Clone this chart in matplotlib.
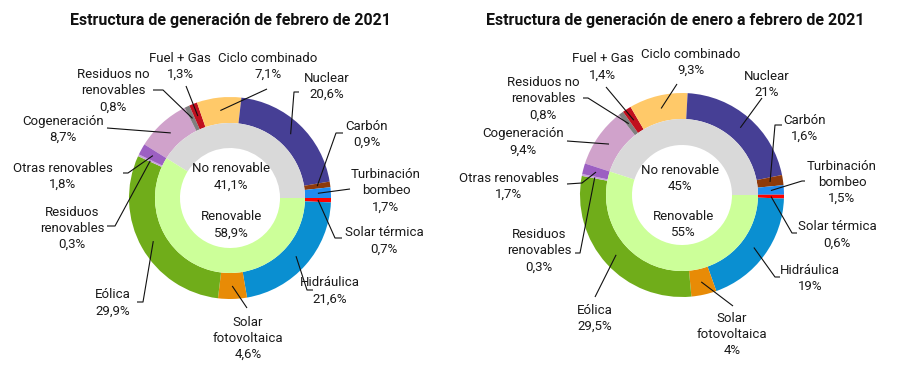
import matplotlib
matplotlib.use("Agg")
import matplotlib.pyplot as plt
from matplotlib import font_manager
import numpy as np

# ---------------- data ----------------
categories = ['Cogeneración', 'Residuos no\nrenovables', 'Fuel + Gas', 'Ciclo combinado',
              'Nuclear', 'Carbón', 'Turbinación\nbombeo', 'Solar térmica', 'Hidráulica',
              'Solar\nfotovoltaica', 'Eólica', 'Residuos\nrenovables', 'Otras renovables']
feb_values = [8.7, 0.8, 1.3, 7.1, 20.6, 0.9, 1.7, 0.7, 21.6, 4.6, 29.9, 0.3, 1.8]
ytd_values = [9.4, 0.8, 1.4, 9.3, 21.0, 1.6, 1.5, 0.6, 19.0, 4.0, 29.5, 0.3, 1.7]
inner_categories = ['No renovable', 'Renovable']
feb_inner = [41.1, 58.9]
ytd_inner = [45.0, 55.0]
titles = ['Estructura de generación de febrero de 2021',
          'Estructura de generación de enero a febrero de 2021']

# ---------------- style ----------------
colors = ['#D0A2CB', '#7F7F7F', '#C00F1E', '#FFC969', '#463F95', '#8E3A0B', '#1F8BF0',
          '#FF0000', '#0A8FD1', '#E88B06', '#70AD1A', '#C9A3DD', '#9C5FC2']
inner_colors = ['#D9D9D9', '#CCFF99']

fam = 'DejaVu Sans'
for f in ['Liberation Sans Narrow', 'Roboto', 'Lato']:
    try:
        font_manager.findfont(f, fallback_to_default=False)
        fam = f
        break
    except Exception:
        pass
plt.rcParams['font.family'] = [fam, 'DejaVu Sans']

W, H = 900, 373
fig = plt.figure(figsize=(W / 100, H / 100), dpi=100)
ax = fig.add_axes([0, 0, 1, 1])

def Y(y):
    return H - y

TXT = '#1a1a1a'
FS = 9.5

layouts = [
    dict(center=(230, 198), R=101, r1=75, r0=50, title_x=230,
         inner_pos=[(231, 177), (231, 225)],
         labels=[(63, 129), (113, 91), (180, 66), (268, 66), (327, 86), (367, 134), (386, 191),
                 (384, 241), (330, 291), (248, 338), (113, 303), (72, 228), (63, 176)],
         lines=[[(107, 128)], [(163, 90), (153, 90)], [(186, 86)], [(267, 89)],
                [(294, 92), (299, 92)], [(336, 133), (343, 133)], [(350, 189)],
                [(335, 238), (342, 238)], [(307, 290), (313, 290)], [(247, 308)],
                [(143, 302), (137, 302)], [(115, 226), (107, 226)], [(128, 173), (123, 173)]]),
    dict(center=(682, 195), R=102, r1=76, r0=50, title_x=675,
         inner_pos=[(680, 178), (683, 224)],
         labels=[(523, 142), (543, 99), (603, 67), (691, 62), (767, 84), (805, 128), (842, 182),
                 (837, 235), (810, 279), (732, 335), (595, 318), (539, 251), (509, 186)],
         lines=[[(567, 141)], [(588, 98), (583, 98)], [(606, 87)], [(677, 84)], [(762, 98)],
                [(775, 125), (782, 125)], [(802, 181), (805, 181)], [(792, 233), (797, 233)],
                [(775, 277), (780, 277)], [(733, 306)], [(595, 297)],
                [(580, 253), (575, 253)], [(582, 183), (567, 184)]]),
]

def fmt(v):
    return ('{:g}'.format(v)).replace('.', ',') + '%'

for vals, inner_vals, lay, title in zip([feb_values, ytd_values], [feb_inner, ytd_inner],
                                         layouts, titles):
    cx, cy = lay['center'][0], Y(lay['center'][1])
    start = 360 * inner_vals[0] / 100.0
    wedges, _ = ax.pie(vals, colors=colors, radius=lay['R'], center=(cx, cy),
                       startangle=start, counterclock=False,
                       wedgeprops=dict(width=lay['R'] - lay['r1'], linewidth=0))
    ax.pie(inner_vals, colors=inner_colors, radius=lay['r1'], center=(cx, cy),
           startangle=start, counterclock=False,
           wedgeprops=dict(width=lay['r1'] - lay['r0'], linewidth=0))
    rmid = (lay['R'] + lay['r1']) / 2.0
    for w, name, v, pos, pts in zip(wedges, categories, vals, lay['labels'], lay['lines']):
        ang = np.deg2rad((w.theta1 + w.theta2) / 2.0)
        ax0, ay0 = cx + rmid * np.cos(ang), cy + rmid * np.sin(ang)
        xs = [ax0] + [p[0] for p in pts]
        ys = [ay0] + [Y(p[1]) for p in pts]
        ax.plot(xs, ys, color='#111111', lw=0.8, solid_capstyle='butt', zorder=5)
        ax.text(pos[0], Y(pos[1]), name + '\n' + fmt(v), ha='center', va='center',
                multialignment='center', fontsize=FS, color=TXT, linespacing=1.3)
    for name, v, pos in zip(inner_categories, inner_vals, lay['inner_pos']):
        ax.text(pos[0], Y(pos[1]), name + '\n' + fmt(v), ha='center', va='center',
                multialignment='center', fontsize=FS, color=TXT, linespacing=1.3)
    ax.text(lay['title_x'], Y(20), title, ha='center', va='center', fontsize=11.5,
            fontweight='bold', color='#111111')

ax.set_xlim(0, W)
ax.set_ylim(0, H)
ax.set_aspect('equal')
ax.axis('off')
fig.savefig('out.png', dpi=100, facecolor='white')
